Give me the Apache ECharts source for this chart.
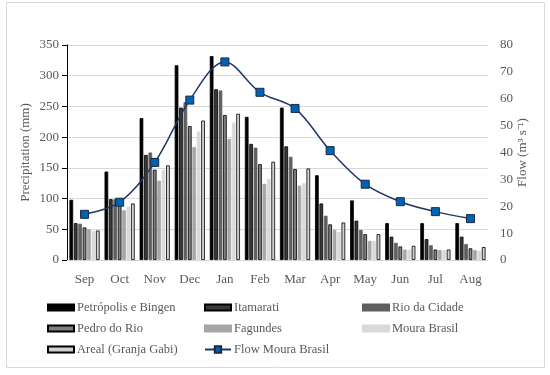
<!DOCTYPE html>
<html><head><meta charset="utf-8">
<script src="https://cdn.jsdelivr.net/npm/echarts@6/dist/echarts.min.js"></script>
<style>html,body{margin:0;padding:0;background:#fff}#c{width:550px;height:375px}</style>
</head><body><div id="c"></div>
<script>
const months = ['Sep','Oct','Nov','Dec','Jan','Feb','Mar','Apr','May','Jun','Jul','Aug'];
const petropolis = [98,144,231,317,332,233,248,138,97,60,60,60];
const itamarati  = [60,99,171,248,278,189,185,92,64,38,34,38];
const rioCidade  = [59,99,175,257,276,183,168,72,49,28,24,26];
const pedroRio   = [53,97,147,218,236,156,148,58,42,22,17,19];
const fagundes   = [50,81,129,184,197,124,121,49,31,17,16,16];
const mouraBrasil= [47,87,147,209,224,132,125,46,31,17,16,15];
const areal      = [48,92,154,227,238,160,149,61,42,23,17,21];
const flowMoura  = [17.0,21.5,36.3,59.5,73.7,62.4,56.4,40.7,28.2,21.7,18.0,15.4];

const font = 'Liberation Serif';
const txt = '#595959';
const barDefs = [
  ['Petrópolis e Bingen', petropolis, '#000000', '#000000'],
  ['Itamarati', itamarati, '#3a3a3a', '#000000'],
  ['Rio da Cidade', rioCidade, '#5f5f5f', '#5f5f5f'],
  ['Pedro do Rio', pedroRio, '#808080', '#000000'],
  ['Fagundes', fagundes, '#a6a6a6', '#a6a6a6'],
  ['Moura Brasil', mouraBrasil, '#d9d9d9', '#d9d9d9'],
  ['Areal (Granja Gabi)', areal, '#d0d0d0', '#000000']
];
const series = barDefs.map(d => ({
  name: d[0], type: 'bar', data: d[1], yAxisIndex: 0,
  barGap: '20%', barCategoryGap: '14%',
  itemStyle: {color: d[2], borderColor: d[3], borderWidth: 0.8},
  emphasis: {disabled: true}
}));
series.push({
  name: 'Flow Moura Brasil', type: 'line', yAxisIndex: 1, data: flowMoura,
  smooth: 0.35, symbol: 'rect', symbolSize: 8, showAllSymbol: true,
  lineStyle: {color: '#1f3864', width: 1.5},
  itemStyle: {color: '#0063b1', borderColor: '#1a2a4a', borderWidth: 1},
  z: 10
});
const legPos = [
  [47,301],[204,301],[362,301],
  [47,322],[204,322],[362,322],
  [47,343],[204,343]
];
const names = barDefs.map(d=>d[0]).concat(['Flow Moura Brasil']);
const legends = names.map((n,i)=>{
  const isLine = i === names.length-1;
  const l = {
    data:[n], left: legPos[i][0], top: legPos[i][1], itemWidth: 26, itemHeight: isLine ? 8 : 6,
    itemGap: 0, padding: 0, selectedMode: false,
    textStyle: {fontFamily: font, fontSize: 12.5, color: txt, padding:[0,0,0,-2]}
  };
  if (!isLine) l.icon = 'rect';
  return l;
});
const chart = echarts.init(document.getElementById('c'), null, {renderer:'canvas'});
chart.setOption({
  animation: false,
  backgroundColor: '#fff',
  graphic: [{type:'rect', shape:{x:6.5,y:2.5,width:538,height:365}, style:{fill:'none', stroke:'#d9d9d9', lineWidth:1}}],
  legend: legends,
  grid: {left: 67, right: 62, top: 45, bottom: 115},
  xAxis: {
    type: 'category', data: months,
    axisLine: {lineStyle: {color: '#d9d9d9'}},
    axisTick: {show: false},
    axisLabel: {fontFamily: font, fontSize: 13, color: txt, margin: 13}
  },
  yAxis: [{
    type: 'value', min: 0, max: 350, interval: 50,
    name: 'Precipitation (mm)', nameLocation: 'middle', nameGap: 35, nameMoveOverlap: false,
    nameTextStyle: {fontFamily: font, fontSize: 13, color: txt},
    axisLine: {show: true, lineStyle: {color: '#000'}},
    axisTick: {show: true, length: 5, lineStyle: {color: '#000'}},
    axisLabel: {fontFamily: font, fontSize: 13, color: txt, margin: 8},
    splitLine: {lineStyle: {color: '#d9d9d9'}}
  },{
    type: 'value', min: 0, max: 80, interval: 10, position: 'right',
    name: 'Flow (m³ s⁻¹)', nameLocation: 'middle', nameGap: 28, nameRotate: 90, nameMoveOverlap: false,
    nameTextStyle: {fontFamily: font, fontSize: 13, color: txt},
    axisLine: {show: false}, axisTick: {show: false},
    axisLabel: {fontFamily: font, fontSize: 13, color: txt, margin: 12},
    splitLine: {show: false}
  }],
  series: series
});
</script></body></html>
